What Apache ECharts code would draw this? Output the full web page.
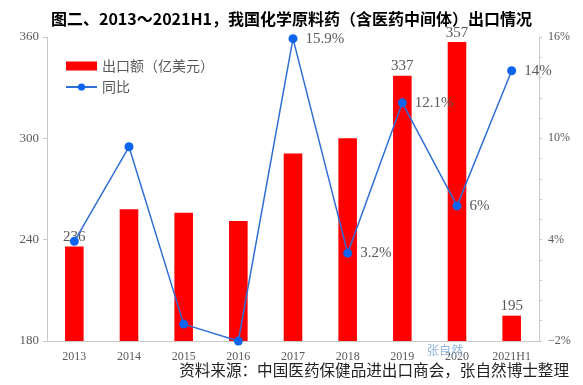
<!DOCTYPE html>
<html>
<head>
<meta charset="utf-8">
<script src="https://cdn.jsdelivr.net/npm/echarts@6/dist/echarts.min.js"></script>
<style>html,body{margin:0;padding:0;background:#fff;}#c{width:583px;height:385px;}</style>
</head>
<body>
<div id="c"></div>
<script>
const categories = ['2013','2014','2015','2016','2017','2018','2019','2020','2021H1'];
const exportValues = [236, 258, 256, 251, 291, 300, 337, 357, 195];
const yoyValues = [3.9, 9.5, -1.0, -2.0, 15.9, 3.2, 12.1, 6.0, 14.0];
const barLabels = ['236','','','','','','337','357','195'];
const lineLabels = ['','','','','15.9%','3.2%','12.1%','6%','14%'];
const leftTicks = {min:180, max:360, interval:60};
const rightTicks = {min:-2, max:16, interval:6};

const serif = '"Liberation Serif","DejaVu Serif","Noto Sans CJK SC",serif';
const cjk = '"Noto Sans CJK SC","Noto Sans",sans-serif';
const chart = echarts.init(document.getElementById('c'));
chart.setOption({
  animation:false,
  backgroundColor:'#fff',
  title:{
    text:'图二、2013～2021H1，我国化学原料药（含医药中间体）出口情况',
    left:'center', top:6,
    textStyle:{fontFamily:cjk, fontSize:16, fontWeight:'bold', color:'#000'}
  },
  legend:{
    left:60, top:54, orient:'vertical', itemGap:7, itemWidth:31, itemHeight:9,
    textStyle:{fontFamily:cjk, fontSize:14, color:'#595959'},
    data:[{name:'出口额（亿美元）', icon:'rect'},{name:'同比'}]
  },
  grid:{left:47, right:44, top:37, bottom:44},
  xAxis:{
    type:'category', data:categories,
    axisLine:{onZero:false, lineStyle:{color:'#c8c8c8'}},
    axisTick:{show:false},
    axisLabel:{fontFamily:serif, fontSize:12, color:'#595959', margin:10}
  },
  yAxis:[
    {type:'value', min:leftTicks.min, max:leftTicks.max, interval:leftTicks.interval,
     splitLine:{show:false},
     axisLine:{show:true, lineStyle:{color:'#c8c8c8'}},
     axisTick:{show:true, length:4, lineStyle:{color:'#c8c8c8'}},
     axisLabel:{fontFamily:serif, fontSize:13, color:'#595959', margin:8}},
    {type:'value', min:rightTicks.min, max:rightTicks.max, interval:rightTicks.interval,
     splitLine:{show:false},
     axisLine:{show:true, lineStyle:{color:'#c8c8c8'}},
     axisTick:{show:true, length:3, lineStyle:{color:'#c8c8c8'}},
     minorTick:{show:true, splitNumber:5, length:3, lineStyle:{color:'#c8c8c8'}},
     axisLabel:{fontFamily:serif, fontSize:12, color:'#595959', margin:9,
       formatter:v=> (v<0?'\u2212'+Math.abs(v):v)+'%'}}
  ],
  series:[
    {name:'出口额（亿美元）', type:'bar', data:exportValues, barWidth:'34%',
     itemStyle:{color:'#ff0000'},
     label:{show:true, position:'top', distance:2, fontFamily:serif, fontSize:15, color:'#595959',
       formatter:p=>barLabels[p.dataIndex]}},
    {name:'同比', type:'line', yAxisIndex:1, data:yoyValues,
     symbol:'circle', symbolSize:9,
     lineStyle:{color:'#2f6fd6', width:1.5},
     itemStyle:{color:'#0a64f0'},
     label:{show:true, position:'right', distance:8, fontFamily:serif, fontSize:15, color:'#595959',
       formatter:p=>lineLabels[p.dataIndex]},
     z:3}
  ],
  graphic:[
    {type:'text', left:449-22, top:344, z:100,
     style:{text:'张自然', fill:'#8fb4d9', font:'12px '+cjk}},
    {type:'text', right:14, top:362,
     style:{text:'资料来源：中国医药保健品进出口商会，张自然博士整理', fill:'#222', font:'15.6px '+cjk}}
  ]
});
</script>
</body>
</html>
